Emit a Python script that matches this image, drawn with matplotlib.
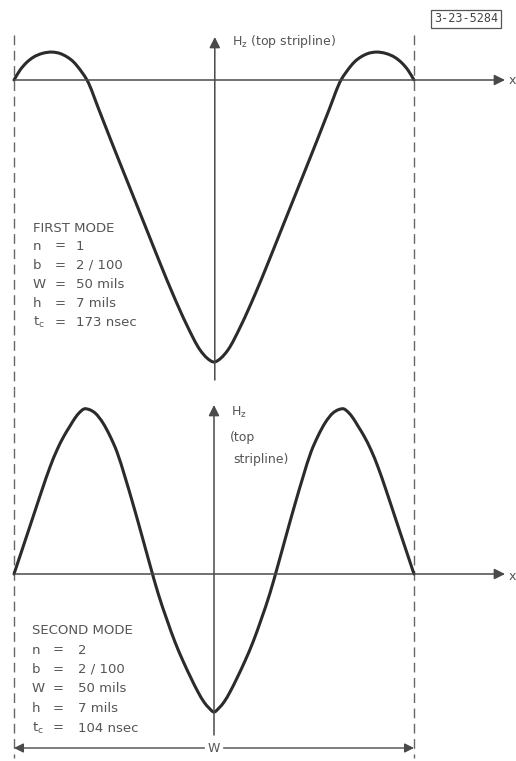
import numpy as np
import matplotlib
matplotlib.use("Agg")
import matplotlib.pyplot as plt
from matplotlib.path import Path
from matplotlib.patches import PathPatch

# position across the stripline (mils, centre = 0, W = 50 mils)
x_first = [-25.0, -24.25, -23.5, -22.625, -21.5, -20.25, -19.25, -18.375,
           -17.625, -17.0, -16.5, -15.875, -14.375, -12.9, -10.9, -8.4, -6.75,
           -5.1, -3.4, -1.75, -0.875, 0.0,
           0.875, 1.75, 3.4, 5.1, 6.75, 8.4, 10.9, 12.9, 14.375,
           15.875, 16.5, 17.0, 17.625, 18.375, 19.25, 20.25, 21.5,
           22.625, 23.5, 24.25, 25.0]
# Hz of the first mode (normalised to the centre value)
hz_first = [0.0, 0.035, 0.060, 0.080, 0.094, 0.099, 0.094, 0.082,
            0.066, 0.046, 0.027, 0.0, -0.106, -0.213, -0.355, -0.532, -0.649,
            -0.762, -0.869, -0.957, -0.986, -1.0,
            -0.986, -0.957, -0.869, -0.762, -0.649, -0.532, -0.355, -0.213, -0.106,
            0.0, 0.027, 0.046, 0.066, 0.082, 0.094, 0.099, 0.094,
            0.080, 0.060, 0.035, 0.0]

x_second = [-25.0, -23.75, -22.625, -21.5, -20.5, -19.625, -18.75, -18.0,
            -17.375, -16.75, -16.25, -15.625, -14.875, -13.875, -13.0,
            -12.125, -11.125, -10.125, -9.0, -8.0, -7.0, -5.875, -4.875,
            -3.875, -2.875, -2.0, -1.25, -0.625, 0.0,
            0.625, 1.25, 2.0, 2.875, 3.875, 4.875, 5.875, 7.0, 8.0, 9.0,
            10.125, 11.125, 12.125, 13.0, 13.875, 14.875, 15.625, 16.25,
            16.75, 17.375, 18.0, 18.75, 19.625, 20.5, 21.5, 22.625, 23.75, 25.0]
hz_second = [0.0, 0.217, 0.413, 0.609, 0.775, 0.899, 1.000, 1.072,
             1.130, 1.174, 1.196, 1.192, 1.167, 1.094, 1.000,
             0.884, 0.703, 0.507, 0.275, 0.065, -0.138, -0.333, -0.493,
             -0.630, -0.754, -0.855, -0.928, -0.971, -1.0,
             -0.971, -0.928, -0.855, -0.754, -0.630, -0.493, -0.333, -0.138, 0.065, 0.275,
             0.507, 0.703, 0.884, 1.000, 1.094, 1.167, 1.192, 1.196,
             1.174, 1.130, 1.072, 1.000, 0.899, 0.775, 0.609, 0.413, 0.217, 0.0]

first_params = [("n", "1"), ("b", "2 / 100"), ("W", "50 mils"),
                ("h", "7 mils"), (r"t$_\mathregular{c}$", "173 nsec")]
second_params = [("n", "2"), ("b", "2 / 100"), ("W", "50 mils"),
                 ("h", "7 mils"), (r"t$_\mathregular{c}$", "104 nsec")]

W_PX, H_PX = 516, 761
CURVE = "#2b2b2b"
AXIS = "#4a4a4a"
TEXT = "#555555"


def smooth_curve(ax, xs, ys, **kw):
    # cubic Hermite through the samples (slopes from neighbouring points),
    # handed to matplotlib as Bezier segments
    x = np.asarray(xs, float)
    y = np.asarray(ys, float)
    h = np.diff(x)
    d = np.diff(y) / h
    m = np.empty_like(x)
    m[0], m[-1] = d[0], d[-1]
    m[1:-1] = (h[:-1] * d[1:] + h[1:] * d[:-1]) / (h[:-1] + h[1:])
    verts = [(x[0], y[0])]
    codes = [Path.MOVETO]
    for i in range(len(h)):
        t = h[i] / 3
        verts += [(x[i] + t, y[i] + m[i] * t),
                  (x[i + 1] - t, y[i + 1] - m[i + 1] * t),
                  (x[i + 1], y[i + 1])]
        codes += [Path.CURVE4] * 3
    ax.add_patch(PathPatch(Path(verts, codes), fill=False, **kw))


fig = plt.figure(figsize=(W_PX / 100, H_PX / 100), dpi=100)
fig.patch.set_facecolor("white")

# x: 8 px per mil, centre at 214 px
xlim = ((0 - 214) / 8, (W_PX - 214) / 8)
split = 390

# top panel: zero line at 80 px, 282 px per unit
ax1 = fig.add_axes([0, 1 - split / H_PX, 1, split / H_PX])
ax1.set_xlim(*xlim)
ax1.set_ylim((80 - split) / 282, 80 / 282)
# bottom panel: zero line at 574 px, 138 px per unit
ax2 = fig.add_axes([0, 0, 1, 1 - split / H_PX])
ax2.set_xlim(*xlim)
ax2.set_ylim((574 - H_PX) / 138, (574 - split) / 138)

for ax in (ax1, ax2):
    ax.axis("off")

arrow = dict(arrowstyle="-|>", color=AXIS, lw=1.1, mutation_scale=16,
             shrinkA=0, shrinkB=0)
xtip = (505 - 214) / 8

# top panel
smooth_curve(ax1, x_first, hz_first, edgecolor=CURVE, lw=2.2,
             capstyle="round", joinstyle="round", zorder=3)
ax1.annotate("", xy=(xtip, 0), xytext=(-25, 0), arrowprops=arrow)
ax1.annotate("", xy=(0.1, (80 - 37) / 282), xytext=(0.1, (80 - 380) / 282),
             arrowprops=arrow)
for xs in (-25, 25):
    ax1.plot([xs, xs], [(80 - 35) / 282, (80 - split) / 282], color="#666666",
             lw=1.0, ls=(0, (7, 4)), clip_on=False)

# bottom panel
smooth_curve(ax2, x_second, hz_second, edgecolor=CURVE, lw=2.2,
             capstyle="round", joinstyle="round", zorder=3)
ax2.annotate("", xy=(xtip, 0), xytext=(-25, 0), arrowprops=arrow)
ax2.annotate("", xy=(0.0, (574 - 405) / 138), xytext=(0.0, (574 - 735) / 138),
             arrowprops=arrow)
for xs in (-25, 25):
    ax2.plot([xs, xs], [(574 - split) / 138, (574 - 758) / 138], color="#666666",
             lw=1.0, ls=(2, (7, 4)), clip_on=False)

# W dimension line
yw = (574 - 748) / 138
dim = dict(arrowstyle="-|>", color=AXIS, lw=1.0, mutation_scale=14,
           shrinkA=0, shrinkB=0)
ax2.annotate("", xy=(-25, yw), xytext=(-1.2, yw), arrowprops=dim)
ax2.annotate("", xy=(25, yw), xytext=(1.2, yw), arrowprops=dim)
ax2.text(0, yw, "W", ha="center", va="center", fontsize=9, color=TEXT)


def px_text(x, y, s, **kw):
    kw.setdefault("color", TEXT)
    kw.setdefault("fontsize", 9.5)
    kw.setdefault("va", "center")
    fig.text(x / W_PX, 1 - y / H_PX, s, **kw)


px_text(509, 80, "x", fontsize=9)
px_text(509, 576, "x", fontsize=9)

px_text(232, 42, r"H$_\mathregular{z}$ (top stripline)", fontsize=9)
px_text(231, 412, r"H$_\mathregular{z}$", fontsize=9)
px_text(230, 437, "(top", fontsize=9)
px_text(233, 460, "stripline)", fontsize=9)

px_text(33, 228, "FIRST MODE")
for i, (name, val) in enumerate(first_params):
    y = 246 + i * 19.2
    px_text(33, y, name)
    px_text(60, y, "=", ha="center")
    px_text(76, y, val)

px_text(32, 630, "SECOND MODE")
for i, (name, val) in enumerate(second_params):
    y = 650 + i * 19.5
    px_text(32, y, name)
    px_text(58, y, "=", ha="center")
    px_text(78, y, val)

px_text(466, 19, "3-23-5284", ha="center", fontsize=8.5, family="DejaVu Sans Mono",
        color="#444444",
        bbox=dict(boxstyle="square,pad=0.25", fc="white", ec="#555555", lw=0.9))

fig.savefig("out.png", dpi=100, facecolor="white")
